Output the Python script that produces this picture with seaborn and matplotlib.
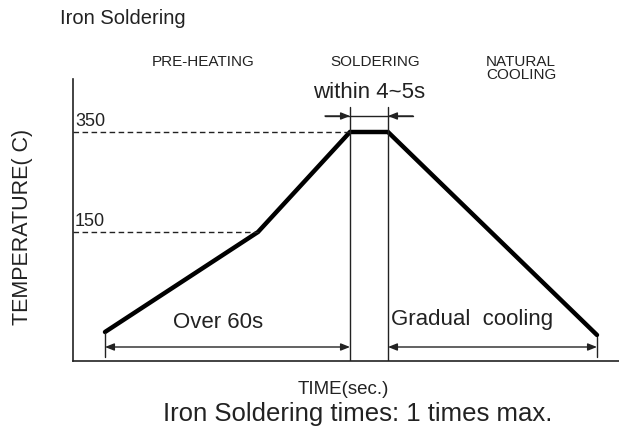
import matplotlib
matplotlib.use("Agg")
import matplotlib.pyplot as plt
import seaborn as sns
import pandas as pd

# ---- data (schematic profile) ----
time_pts = [32, 185, 277, 315, 524]          # arbitrary time units
temp_pts = [-50, 150, 350, 350, -56]         # temperature scale
level_labels = ["350", "150"]
level_values = [350, 150]
phase_labels = ["PRE-HEATING", "SOLDERING", "NATURAL\nCOOLING"]
span_labels = ["Over 60s", "Gradual  cooling", "within 4~5s"]

sns.set_theme(style="white")
plt.rcParams['font.family'] = ['Liberation Sans', 'DejaVu Sans']

W, H = 619, 433
fig = plt.figure(figsize=(W / 100, H / 100), dpi=100)
ax = fig.add_axes([73 / W, (H - 361) / H, (W - 73) / W, (361 - 79) / H])
ax.set_xlim(0, 546)
ax.set_ylim(-108, 456)

df = pd.DataFrame({"time": time_pts, "temp": temp_pts})
sns.lineplot(data=df, x="time", y="temp", ax=ax, color="black", lw=3.2,
             sort=False, solid_joinstyle="miter")

for sp in ["top", "right"]:
    ax.spines[sp].set_visible(False)
for sp in ["left", "bottom"]:
    ax.spines[sp].set_color("#222222")
    ax.spines[sp].set_linewidth(1.2)
ax.set_xticks([])
ax.set_yticks([])
ax.set_xlabel("")
ax.set_ylabel("")

tc = "#222222"
thin = dict(color=tc, lw=1.0)
# dashed level lines
ax.plot([0, time_pts[2]], [level_values[0]] * 2, ls=(0, (4, 2.5)), **thin)
ax.plot([0, time_pts[1]], [level_values[1]] * 2, ls=(0, (4, 2.5)), **thin)
ax.text(2, level_values[0] + 21, level_labels[0], fontsize=13, va="center", ha="left", color=tc)
ax.text(2, level_values[1] + 20, level_labels[1], fontsize=13, va="center", ha="left", color=tc)

# vertical guides around soldering
for xv in (time_pts[2], time_pts[3]):
    ax.plot([xv, xv], [-108, 400], **thin)

# top arrows "within 4~5s"
ya = 382
ax.plot([252, 340], [ya, ya], **thin)
ap = dict(arrowstyle="-|>,head_length=0.45,head_width=0.18", color=tc, lw=1.0,
          shrinkA=0, shrinkB=0)
ax.annotate("", xy=(time_pts[2], ya), xytext=(252, ya), arrowprops=ap)
ax.annotate("", xy=(time_pts[3], ya), xytext=(340, ya), arrowprops=ap)

# bottom spans
yb = -80
ap2 = dict(arrowstyle="<|-|>,head_length=0.45,head_width=0.18", color=tc, lw=1.0,
           shrinkA=0, shrinkB=0)
ax.annotate("", xy=(time_pts[0], yb), xytext=(time_pts[2], yb), arrowprops=ap2)
ax.annotate("", xy=(time_pts[3], yb), xytext=(time_pts[4], yb), arrowprops=ap2)
ax.plot([time_pts[0]] * 2, [-52, -100], **thin)
ax.plot([time_pts[4]] * 2, [-60, -100], **thin)

ax.text(145, -30, span_labels[0], fontsize=16, ha="center", va="center", color=tc)
ax.text(318, -26, span_labels[1], fontsize=16, ha="left", va="center", color=tc)
ax.text(296, 430, span_labels[2], fontsize=16, ha="center", va="center", color=tc)

# figure-level texts
def ft(x, y, s, **kw):
    fig.text(x / W, 1 - y / H, s, color=tc, **kw)

ft(60, 19, "Iron Soldering", fontsize=14.5, ha="left", va="center")
ft(203, 62, phase_labels[0], fontsize=11, ha="center", va="center")
ft(375, 62, phase_labels[1], fontsize=11, ha="center", va="center")
ft(521, 68.5, phase_labels[2], fontsize=11, ha="center", va="center", linespacing=0.95)
ft(23, 227, "TEMPERATURE( C)", fontsize=15.5, ha="center", va="center", rotation=90)
ft(343, 389, "TIME(sec.)", fontsize=13.5, ha="center", va="center")
ft(358, 414, "Iron Soldering times: 1 times max.", fontsize=18.5, ha="center", va="center")

fig.savefig("out.png", dpi=100, facecolor="white")
